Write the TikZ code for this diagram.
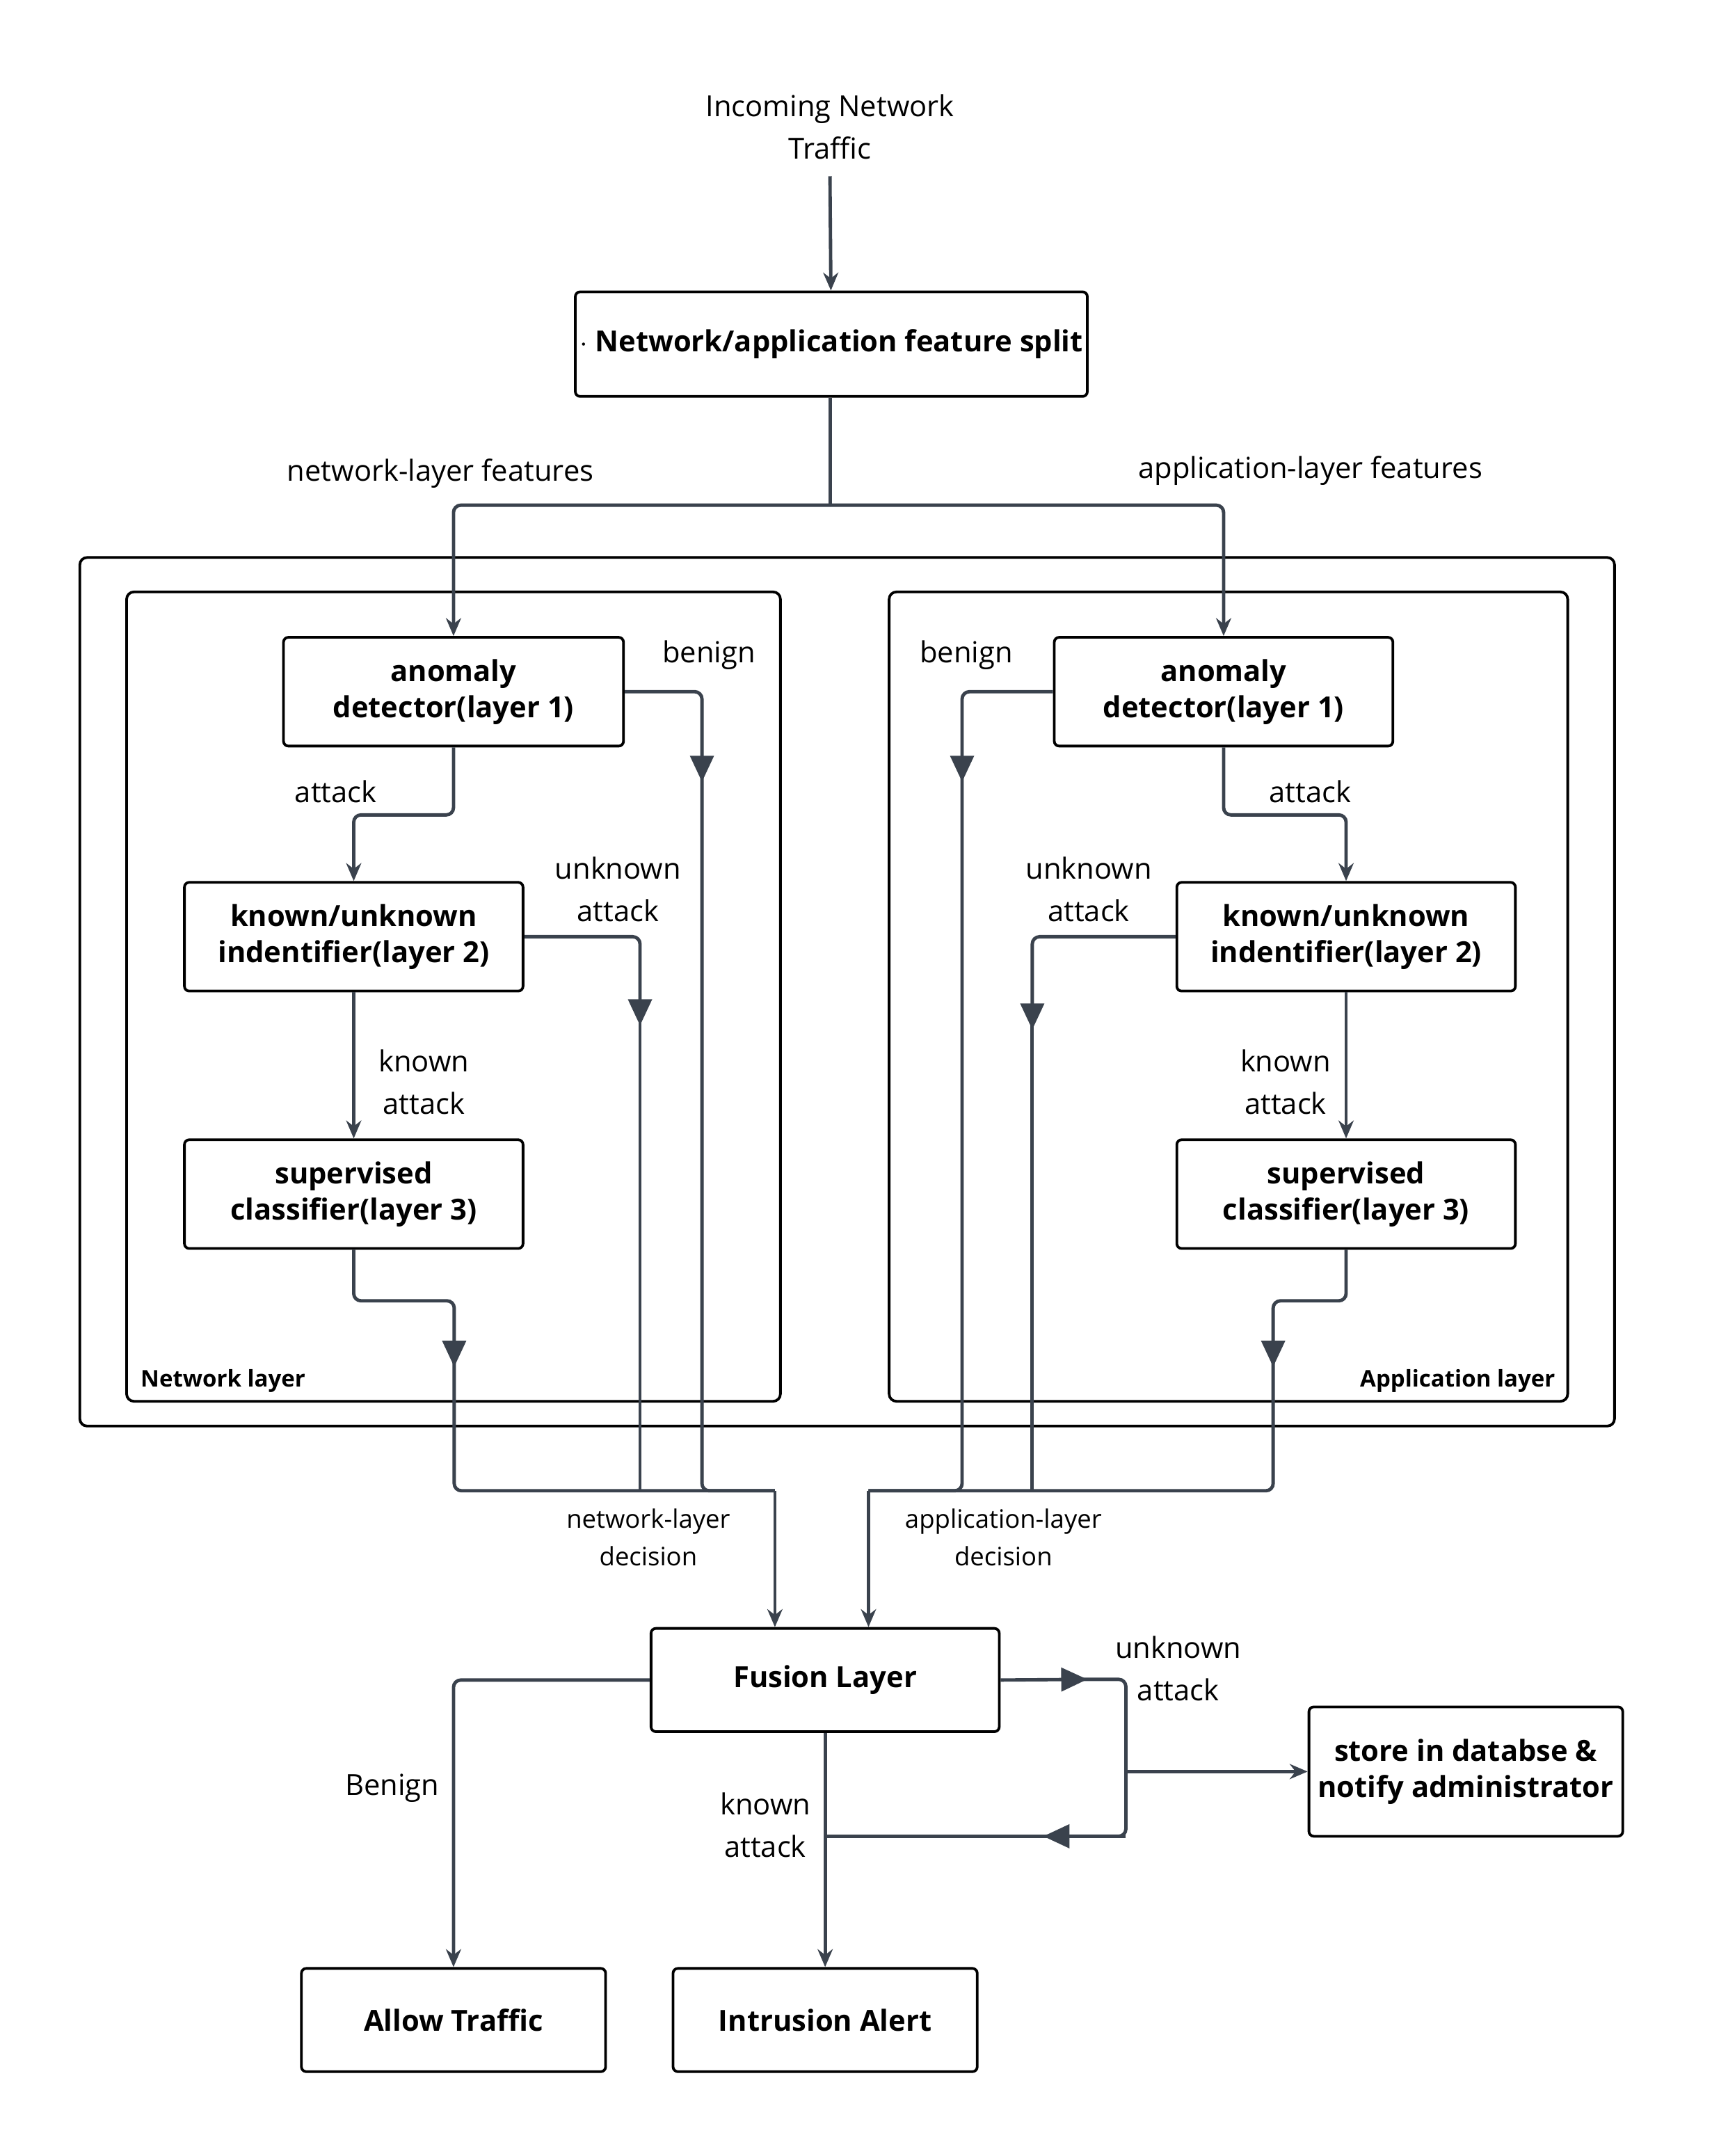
\documentclass[tikz,border=0pt]{standalone}
\usepackage{fontspec}
\setmainfont{Open Sans}
\usetikzlibrary{arrows.meta}
\definecolor{ln}{HTML}{3A424D}
\begin{document}
\begin{tikzpicture}[x=0.02cm,y=-0.02cm,
  box/.style={draw=black,line width=1.1pt,rounded corners=2pt,font=\fontsize{12}{15}\selectfont\bfseries,align=center,inner sep=0},
  frame/.style={draw=black,line width=1.1pt,rounded corners=3pt},
  con/.style={draw=ln,line width=1.4pt,rounded corners=3pt},
  arr/.style={con,-{Stealth[length=0.26cm,width=0.22cm]}},
  big/.style={con,-{Triangle[length=0.38cm,width=0.34cm]}},
  lbl/.style={font=\fontsize{12}{17.5}\selectfont,align=center},
  slbl/.style={font=\fontsize{10.5}{15.5}\selectfont,align=center}]
\useasboundingbox (0,0) rectangle (1255,1566.3);
% frames
\draw[frame] (58,405) rectangle (1173,1036);
\draw[frame] (92,430) rectangle (567,1018);
\draw[frame] (646,430) rectangle (1139,1018);
\node[anchor=west,font=\fontsize{9.5}{12}\selectfont\bfseries] (nl) at (96,1003) {Network layer};
\node[anchor=east,font=\fontsize{9.5}{12}\selectfont\bfseries] (al) at (1136,1003) {Application layer};
% boxes
\node[lbl] (in) at (603,92) {Incoming Network\\Traffic};
\node[box,minimum width=372*0.02cm,minimum height=76*0.02cm] (split) at (604,250) {$\cdot$ Network/application feature split};
\node[box,minimum width=247*0.02cm,minimum height=79*0.02cm] (a1) at (329.5,502.5) {anomaly\\detector(layer 1)};
\node[box,minimum width=246*0.02cm,minimum height=79*0.02cm] (k1) at (257,680.5) {known/unknown\\indentifier(layer 2)};
\node[box,minimum width=246*0.02cm,minimum height=79*0.02cm] (s1) at (257,867.5) {supervised\\classifier(layer 3)};
\node[box,minimum width=246*0.02cm,minimum height=79*0.02cm] (a2) at (889,502.5) {anomaly\\detector(layer 1)};
\node[box,minimum width=246*0.02cm,minimum height=79*0.02cm] (k2) at (978,680.5) {known/unknown\\indentifier(layer 2)};
\node[box,minimum width=246*0.02cm,minimum height=79*0.02cm] (s2) at (978,867.5) {supervised\\classifier(layer 3)};
\node[box,minimum width=253*0.02cm,minimum height=75*0.02cm] (fu) at (599.5,1220.5) {Fusion Layer};
\node[box,minimum width=228*0.02cm,minimum height=94*0.02cm] (st) at (1065,1287) {store in databse \&\\notify administrator};
\node[box,minimum width=221*0.02cm,minimum height=75*0.02cm] (at) at (329.5,1467.5) {Allow Traffic};
\node[box,minimum width=221*0.02cm,minimum height=75*0.02cm] (ia) at (599.5,1467.5) {Intrusion Alert};
% coordinates
\coordinate (sj) at (603,367);
\coordinate (nj) at (563,1083);
\coordinate (aj) at (631,1083);
\coordinate (uj) at (818,1220);
\coordinate (uk) at (818,1287);
% top
\draw[arr] (603,128) -- (split);
\draw[con] (split.south -| sj) -- (sj);
\draw[arr] (sj) -| (a1.north);
\draw[arr] (sj) -| (a2.north);
\node[lbl] (nf) at (320,344) {network-layer features};
\node[lbl] (af) at (952,342) {application-layer features};
% left internals
\draw[arr] (a1.south) |- (293,592) -| (k1.north);
\node[lbl] (la1) at (244,575) {attack};
\draw[arr] (k1) -- (s1);
\node[lbl] (la2) at (308,786) {known\\attack};
\draw[big] (a1.east) -| (510,568);
\draw[con] (510,560) |- (nj);
\node[lbl] (lb1) at (515,476) {benign};
\draw[big] (k1.east) -| (465,745);
\draw[con] (465,738) -- (465,1083);
\node[lbl] (lu1) at (449,646) {unknown\\attack};
\draw[big] (s1.south) |- (293,945) -| (330,993);
\draw[con] (330,985) |- (nj);
\draw[arr] (nj) -- (fu.north -| nj);
\node[slbl] (nd) at (471,1117) {network-layer\\decision};
% right internals
\draw[arr] (a2.south) |- (933,592) -| (k2.north);
\node[lbl] (ra1) at (952,575) {attack};
\draw[arr] (k2) -- (s2);
\node[lbl] (ra2) at (934,786) {known\\attack};
\draw[big] (a2.west) -| (699,568);
\draw[con] (699,560) |- (aj);
\node[lbl] (rb1) at (702,476) {benign};
\draw[big] (k2.west) -| (750,748);
\draw[con] (750,740) -- (750,1083);
\node[lbl] (ru1) at (791,646) {unknown\\attack};
\draw[big] (s2.south) |- (950,945) -| (925,993);
\draw[con] (925,985) |- (aj);
\draw[arr] (aj) -- (fu.north -| aj);
\node[slbl] (ad) at (729,1117) {application-layer\\decision};
% bottom
\draw[arr] (fu.west) -| (at.north);
\node[lbl] (bn) at (285,1299) {Benign};
\draw[arr] (fu.south -| ia) -- (ia.north);
\node[lbl] (ka) at (556,1326) {known\\attack};
\draw[big] (fu.east) -- (790,1220);
\draw[con] (785,1220) -- (uj) -- (818,1334) -- (760,1334);
\draw[big] (818,1334) -- (758,1334);
\draw[con] (765,1334) -- (599,1334);
\draw[arr] (uk) -- (st.west);
\node[lbl] (ua) at (856,1212) {unknown\\attack};
\end{tikzpicture}
\end{document}
